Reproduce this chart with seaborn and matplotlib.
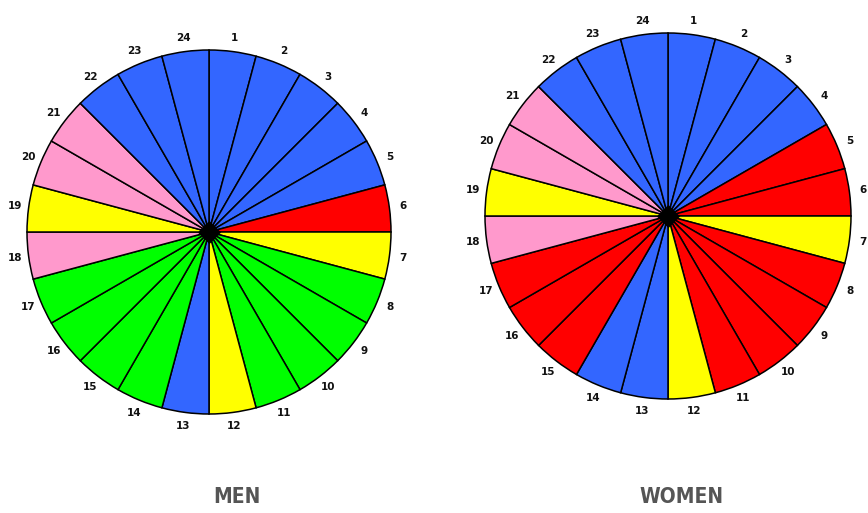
import numpy as np
import matplotlib
matplotlib.use('Agg')
import matplotlib.pyplot as plt
import seaborn as sns

sns.set_style('white')

# slice numbers, clockwise from the top
slice_labels = [str(i) for i in range(1, 25)]
slice_share = [1] * 24

# colour group of each slice
men_groups = ['blue'] * 5 + ['red', 'yellow'] + ['green'] * 4 + ['yellow', 'blue'] \
    + ['green'] * 4 + ['pink', 'yellow', 'pink', 'pink'] + ['blue'] * 3
women_groups = ['blue'] * 4 + ['red', 'red', 'yellow'] + ['red'] * 4 + ['yellow', 'blue', 'blue'] \
    + ['red'] * 3 + ['pink', 'yellow', 'pink', 'pink'] + ['blue'] * 3

palette = {'blue': '#3366ff', 'red': '#ff0000', 'yellow': '#ffff00',
           'green': '#00ff00', 'pink': '#ff99cc'}

titles = ['MEN', 'WOMEN']

W, H = 868, 513
fig = plt.figure(figsize=(W / 100, H / 100), dpi=100)

# pixel centre, radius, title position for each pie
layout = [((209, 232), 182, (237, 497)), ((668, 216), 183, (682, 497))]
lim = 1.3

for groups, title, ((cx, cy), r, (tx, ty)) in zip([men_groups, women_groups], titles, layout):
    half = lim * r
    ax = fig.add_axes([(cx - half) / W, 1 - (cy + half) / H, 2 * half / W, 2 * half / H])
    ax.patch.set_alpha(0)
    ax.pie(slice_share, labels=slice_labels, colors=[palette[g] for g in groups],
           startangle=90, counterclock=False, labeldistance=1.075,
           wedgeprops=dict(edgecolor='black', linewidth=1.1),
           textprops=dict(fontsize=7.5, fontweight='bold', color='#111111'))
    for t in ax.texts:
        t.set_ha('center')
        t.set_va('center')
    # black diamond at the hub
    ax.scatter([0], [0], marker='D', color='black', s=140, zorder=10, linewidths=0)
    ax.set_xlim(-lim, lim)
    ax.set_ylim(-lim, lim)
    ax.set_aspect('equal')
    ax.axis('off')
    fig.text(tx / W, 1 - ty / H, title, ha='center', va='center', fontsize=15,
             fontweight='bold', color='#555555', fontstretch='condensed')

fig.savefig('out.png', dpi=100)
